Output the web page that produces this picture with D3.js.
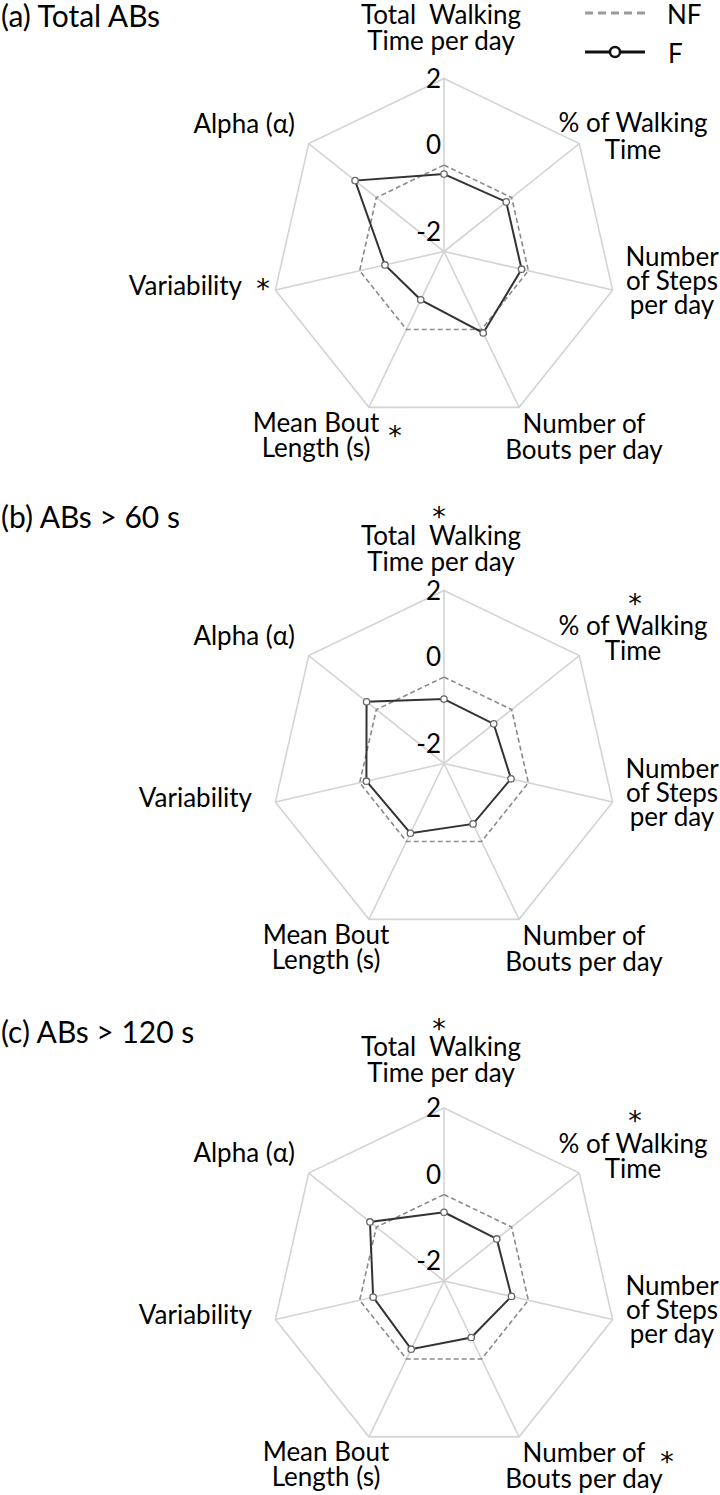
<!DOCTYPE html>
<html>
<head>
<meta charset="utf-8">
<script src="https://cdn.jsdelivr.net/npm/d3@7"></script>
<style>
	body { margin:0; background:#fff; }
	text { font-family:"Lato","Open Sans",sans-serif; fill:#000; white-space:pre; }
</style>
</head>
<body>
<div id="idChart"></div>
<script>
// axes, clockwise from the top
var aAxisLabels=[
	["Total  Walking","Time per day"],
	["% of Walking","Time"],
	["Number","of Steps","per day"],
	["Number of","Bouts per day"],
	["Mean Bout","Length (s)"],
	["Variability"],
	["Alpha (\u03B1)"]
];
var aTicks=[2,0,-2];
var aSeries=["NF","F"];
var aTitles=["(a) Total ABs","(b) ABs > 60 s","(c) ABs > 120 s"];

// z-scores, NF is the reference group
var aNFTotal=[0,0,0,0,0,0,0];
var aFTotal=[-0.21,-0.16,-0.16,0.09,-0.76,-0.60,0.63];
var aNF60=[0,0,0,0,0,0,0];
var aF60=[-0.51,-0.53,-0.41,-0.45,-0.21,-0.16,0.29];
var aNF120=[0,0,0,0,0,0,0];
var aF120=[-0.41,-0.44,-0.40,-0.55,-0.25,-0.32,0.19];

// axes marked significant (*)
var aSigTotal=[5,4];
var aSig60=[0,1];
var aSig120=[0,1,3];

var iWidth=720;
var iHeight=1495;
var iRadius=173;
var iCX=444;

var aPanels=[
	{sTitle:aTitles[0],aNF:aNFTotal,aF:aFTotal,aSig:aSigTotal,iCY:251.5,iTitleY:27,aTopY:[-228,-201.5],aPctY:[-119.5,-93],bLegend:true},
	{sTitle:aTitles[1],aNF:aNF60,aF:aF60,aSig:aSig60,iCY:763.5,iTitleY:528,aTopY:[-219,-193],aPctY:[-128.5,-103.5]},
	{sTitle:aTitles[2],aNF:aNF120,aF:aF120,aSig:aSig120,iCY:1281,iTitleY:1043,aTopY:[-225,-199],aPctY:[-128.5,-103.5]}
];

// label anchors relative to the panel centre
var aLabelPos=[
	{x:-3,y:null,anchor:"middle"},
	{x:189,y:null,anchor:"middle"},
	{x:228,y:[14,38,62],anchor:"middle"},
	{x:140,y:[181,207],anchor:"middle"},
	{x:-118,y:[180,205],anchor:"middle"},
	{x:-192,y:[43],anchor:"end"},
	{x:-149,y:[-119],anchor:"end"}
];
// where each star's middle sits, relative to the first label line
var aStarPos=[
	{x:-5,y:-34},
	{x:191,y:-38},
	{x:0,y:0},
	{x:223,y:-7},
	{x:-49,y:-2},
	{x:-181,y:-12},
	{x:0,y:0}
];

var iFont=26;
var iStarFont=27;

var mySvg=d3.select("#idChart").append("svg")
	.attr("width",iWidth)
	.attr("height",iHeight);

var myR=d3.scaleLinear().domain([-2,2]).range([0,iRadius]);
var fAngle=function(i){return i*2*Math.PI/aAxisLabels.length;};

var myLine=d3.lineRadial()
	.angle(function(d,i){return fAngle(i);})
	.radius(function(d){return myR(d);})
	.curve(d3.curveLinearClosed);

function DrawPanel(oPanel)
{
	var myG=mySvg.append("g")
		.attr("transform","translate("+iCX+","+oPanel.iCY+")");

	// outer ring and spokes
	myG.append("path")
		.attr("d",myLine(aAxisLabels.map(function(){return 2;})))
		.attr("fill","none")
		.attr("stroke","#d4d4d4")
		.attr("stroke-width",1.6);

	myG.selectAll(".spoke")
		.data(aAxisLabels)
		.enter().append("line")
			.attr("class","spoke")
			.attr("x1",0).attr("y1",0)
			.attr("x2",function(d,i){return myR(2)*Math.sin(fAngle(i));})
			.attr("y2",function(d,i){return -myR(2)*Math.cos(fAngle(i));})
			.attr("stroke","#d4d4d4")
			.attr("stroke-width",1.6);

	// tick labels along the top spoke
	myG.selectAll(".tick")
		.data(aTicks)
		.enter().append("text")
			.attr("class","tick")
			.attr("x",-3)
			.attr("y",function(d){return -Math.min(myR(d)+20,iRadius)+9;})
			.attr("text-anchor","end")
			.style("font-size",iFont+"px")
			.text(function(d){return d;});

	myG.append("path")
		.attr("d",myLine(oPanel.aNF))
		.attr("fill","none")
		.attr("stroke","#8a8a8a")
		.attr("stroke-width",1.6)
		.attr("stroke-dasharray","5,3");

	myG.append("path")
		.attr("d",myLine(oPanel.aF))
		.attr("fill","none")
		.attr("stroke","#333")
		.attr("stroke-width",2);

	myG.selectAll(".pt")
		.data(oPanel.aF)
		.enter().append("circle")
			.attr("class","pt")
			.attr("cx",function(d,i){return myR(d)*Math.sin(fAngle(i));})
			.attr("cy",function(d,i){return -myR(d)*Math.cos(fAngle(i));})
			.attr("r",3.2)
			.attr("fill","#fff")
			.attr("stroke","#666")
			.attr("stroke-width",1.3);

	// axis labels
	aAxisLabels.forEach(function(aLines,i){
		var oPos=aLabelPos[i];
		var aY=oPos.y;
		if(i==0) aY=oPanel.aTopY;
		if(i==1) aY=oPanel.aPctY;
		var bSig=oPanel.aSig.indexOf(i)>=0;
		// labels on the left move over to make room for the star
		var iShift=(bSig && (i==4 || i==5)) ? -10 : 0;
		var myText=myG.append("text")
			.attr("text-anchor",oPos.anchor)
			.style("font-size",iFont+"px");
		aLines.forEach(function(sLine,j){
			myText.append("tspan")
				.attr("x",oPos.x+iShift)
				.attr("y",aY[j])
				.text(sLine);
		});
		if(bSig)
		{
			myG.append("text")
				.attr("x",aStarPos[i].x)
				.attr("y",aY[0]+aStarPos[i].y+iStarFont*0.58)
				.attr("text-anchor","middle")
				.style("font-family","'DejaVu Sans',sans-serif")
				.style("font-size",iStarFont+"px")
				.text("*");
		}
	});

	mySvg.append("text")
		.attr("x",1)
		.attr("y",oPanel.iTitleY)
		.style("font-size","30px")
		.text(oPanel.sTitle);

	if(oPanel.bLegend) DrawLegend();
}

function DrawLegend()
{
	var myLeg=mySvg.append("g");

	myLeg.append("line")
		.attr("x1",585).attr("x2",645)
		.attr("y1",13).attr("y2",13)
		.attr("stroke","#9a9a9a")
		.attr("stroke-width",3)
		.attr("stroke-dasharray","8,5");
	myLeg.append("text")
		.attr("x",667).attr("y",24)
		.style("font-size",iFont+"px")
		.text(aSeries[0]);

	myLeg.append("line")
		.attr("x1",585).attr("x2",645)
		.attr("y1",52).attr("y2",52)
		.attr("stroke","#111")
		.attr("stroke-width",3);
	myLeg.append("circle")
		.attr("cx",615).attr("cy",52)
		.attr("r",5)
		.attr("fill","#fff")
		.attr("stroke","#111")
		.attr("stroke-width",2.5);
	myLeg.append("text")
		.attr("x",668).attr("y",63)
		.style("font-size",iFont+"px")
		.text(aSeries[1]);
}

aPanels.forEach(DrawPanel);
</script>
</body>
</html>
